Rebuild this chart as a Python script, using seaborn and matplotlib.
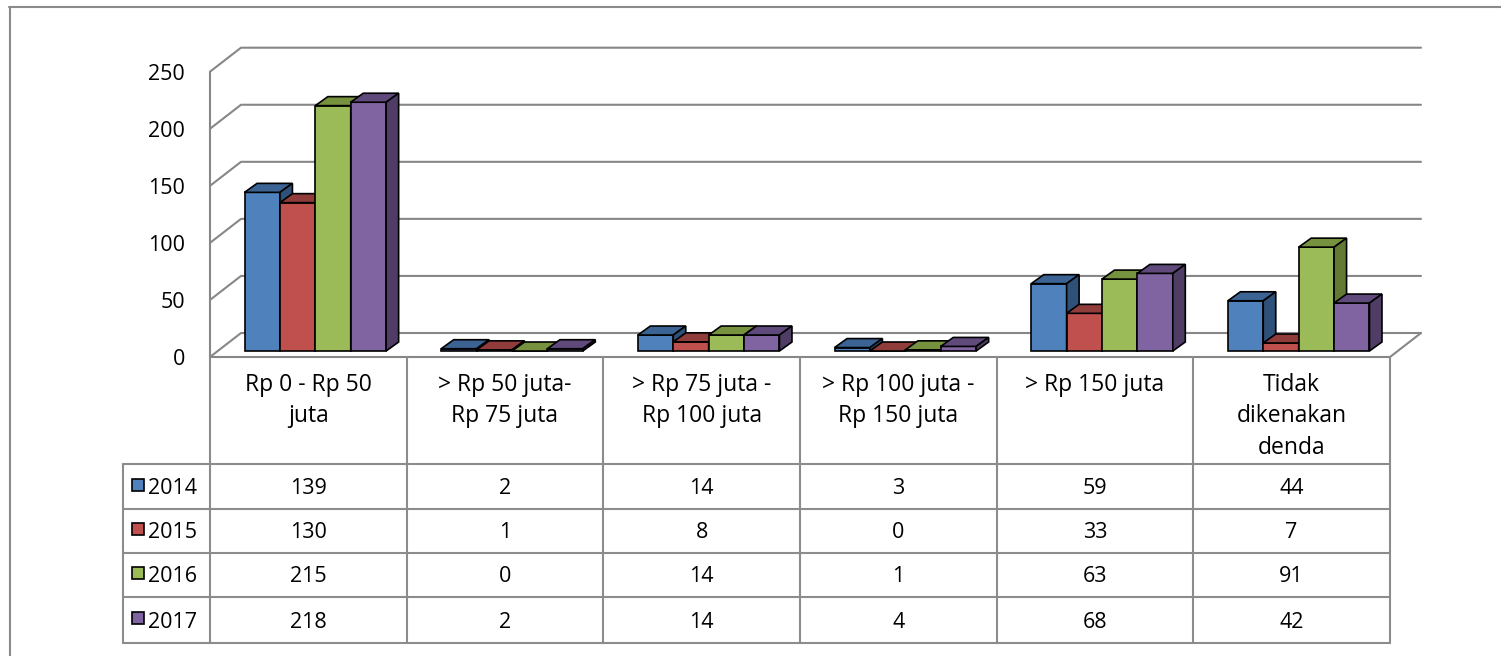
import numpy as np
import pandas as pd
import matplotlib
matplotlib.use("Agg")
import matplotlib.pyplot as plt
import seaborn as sns
from matplotlib.patches import Polygon, Rectangle
from matplotlib.lines import Line2D
from matplotlib.transforms import IdentityTransform, ScaledTranslation

# ---- data -------------------------------------------------------------
categories = ["Rp 0 - Rp 50 juta", "> Rp 50 juta- Rp 75 juta",
              "> Rp 75 juta - Rp 100 juta", "> Rp 100 juta - Rp 150 juta",
              "> Rp 150 juta", "Tidak dikenakan denda"]
category_labels = [["Rp 0 - Rp 50", "juta"],
                   ["> Rp 50 juta-", "Rp 75 juta"],
                   ["> Rp 75 juta -", "Rp 100 juta"],
                   ["> Rp 100 juta -", "Rp 150 juta"],
                   ["> Rp 150 juta"],
                   ["Tidak", "dikenakan", "denda"]]
years = ["2014", "2015", "2016", "2017"]
v2014 = [139, 2, 14, 3, 59, 44]
v2015 = [130, 1, 8, 0, 33, 7]
v2016 = [215, 0, 14, 1, 63, 91]
v2017 = [218, 2, 14, 4, 68, 42]
series = [v2014, v2015, v2016, v2017]
y_ticks = [0, 50, 100, 150, 200, 250]

# ---- styling ----------------------------------------------------------
front_colors = ["#4F81BD", "#C0504D", "#9BBB59", "#8064A2"]
top_colors = ["#3B6494", "#903C3A", "#77923F", "#604A7C"]
side_colors = ["#2F5079", "#772F2D", "#627A33", "#4F3D66"]
GRID = "#878787"
TABLE = "#8C8C8C"

W, H = 1501, 656
DPI = 100
sns.set_style("white")
plt.rcParams["font.family"] = ["Open Sans", "DejaVu Sans"]
FS_TEXT = 16.5
FS_NUM = 15.5

fig = plt.figure(figsize=(W / DPI, H / DPI), dpi=DPI)
fig.patch.set_facecolor("white")


def px(x, y_top):
    """pixel position measured from the top-left corner -> display coords"""
    return (x, H - y_top)


# front plane of the plot: x 210..1390, zero line at 357, 250 at 71.7
y0_px, y250_px = 357.0, 71.7
ax = fig.add_axes([210 / W, (H - y0_px) / H, 1180 / W, (y0_px - y250_px) / H])

df = pd.DataFrame({
    "category": categories * len(years),
    "year": np.repeat(years, len(categories)),
    "value": np.concatenate(series),
})

sns.barplot(data=df, x="category", y="value", hue="year", order=categories,
            hue_order=years, palette=front_colors, saturation=1, width=0.72,
            edgecolor="black", linewidth=1.2, ax=ax, legend=False)

ax.set_xlim(-0.5, len(categories) - 0.5)
ax.set_ylim(0, 250)
ax.patch.set_visible(False)
ax.set_xlabel("")
ax.set_ylabel("")
ax.set_xticks([])
ax.set_yticks(y_ticks)
ax.set_yticklabels([str(t) for t in y_ticks])
for s in ["top", "right", "bottom"]:
    ax.spines[s].set_visible(False)
ax.spines["left"].set_color(GRID)
ax.spines["left"].set_linewidth(1.5)
ax.tick_params(axis="y", length=5, width=1.5, color=GRID, labelcolor="black",
               labelsize=FS_NUM, pad=13)

# depth offsets (pixels, display coords with y up)
WALL_DX, WALL_DY = 31, 24        # back wall
SHIFT_X, SHIFT_Y = 7, 6          # bar front face sits behind the front plane
BAR_DX, BAR_DY = 12.5, 9         # bar depth

fig.canvas.draw()
tdata = ax.transData
xl, _ = tdata.transform((-0.5, 0))
xr, _ = tdata.transform((len(categories) - 0.5, 0))

# back wall gridlines with their receding left ends, plus floor
for t in y_ticks:
    _, yd = tdata.transform((0, t))
    ax.add_line(Line2D([xl, xl + WALL_DX, xr + WALL_DX],
                       [yd, yd + WALL_DY, yd + WALL_DY],
                       transform=IdentityTransform(), color=GRID, lw=1.5,
                       clip_on=False, zorder=1))
_, yz = tdata.transform((0, 0))
ax.add_line(Line2D([xr, xr + WALL_DX], [yz, yz + WALL_DY],
                   transform=IdentityTransform(), color=GRID, lw=1.5,
                   clip_on=False, zorder=1))

# bars: shift front faces back, add top and side faces
shift = ScaledTranslation(SHIFT_X / DPI, SHIFT_Y / DPI, fig.dpi_scale_trans)
for p in ax.patches[:]:
    fc = matplotlib.colors.to_hex(p.get_facecolor())
    k = [c.lower() for c in front_colors].index(fc.lower())
    x0, w, h = p.get_x(), p.get_width(), p.get_height()
    p.set_transform(tdata + shift)
    p.set_clip_on(False)
    p.set_zorder(3 + k * 0.1)
    (xa, yb), (xb, yt) = tdata.transform([(x0, 0), (x0 + w, h)])
    xa += SHIFT_X; xb += SHIFT_X; yb += SHIFT_Y; yt += SHIFT_Y
    top = Polygon([(xa, yt), (xb, yt), (xb + BAR_DX, yt + BAR_DY),
                   (xa + BAR_DX, yt + BAR_DY)], closed=True,
                  facecolor=top_colors[k], edgecolor="black", lw=1.2,
                  transform=IdentityTransform(), clip_on=False,
                  zorder=3 + k * 0.1 + 0.05)
    side = Polygon([(xb, yb), (xb + BAR_DX, yb + BAR_DY),
                    (xb + BAR_DX, yt + BAR_DY), (xb, yt)], closed=True,
                   facecolor=side_colors[k], edgecolor="black", lw=1.2,
                   transform=IdentityTransform(), clip_on=False,
                   zorder=3 + k * 0.1 + 0.05)
    ax.add_patch(top)
    ax.add_patch(side)

ax.set_xlim(-0.5, len(categories) - 0.5)
ax.set_ylim(0, 250)

# ---- data table -------------------------------------------------------
I = IdentityTransform()
col_x = [tdata.transform((i - 0.5, 0))[0] for i in range(len(categories) + 1)]
row_y = [464, 509, 553, 597, 643]
legend_left = 123


def hline(x1, x2, yt, color=TABLE, lw=1.5):
    fig.add_artist(Line2D([x1, x2], [H - yt, H - yt], transform=I,
                          color=color, lw=lw))


def vline(x, y1, y2, color=TABLE, lw=1.5):
    fig.add_artist(Line2D([x, x], [H - y1, H - y2], transform=I,
                          color=color, lw=lw))


hline(col_x[0], col_x[-1], y0_px, color=GRID)
for cx in col_x:
    vline(cx, y0_px, row_y[-1])
vline(legend_left, row_y[0], row_y[-1])
for ry in row_y:
    hline(legend_left, col_x[-1], ry)

# column headers
for i, lines in enumerate(category_labels):
    cx = (col_x[i] + col_x[i + 1]) / 2
    for j, line in enumerate(lines):
        fig.text(*px(cx, 385 + 31.5 * j), line, transform=I, ha="center",
                 va="center", fontsize=FS_TEXT, color="black")

# rows: legend key, year, values
for k, (yr, vals) in enumerate(zip(years, series)):
    yc = (row_y[k] + row_y[k + 1]) / 2 + 2
    fig.add_artist(Rectangle(px(132, yc + 2), 12, 12, transform=I,
                             facecolor=front_colors[k], edgecolor="black",
                             lw=1.2))
    fig.text(*px(148, yc), yr, transform=I, ha="left", va="center",
             fontsize=FS_NUM, color="black")
    for i, v in enumerate(vals):
        cx = (col_x[i] + col_x[i + 1]) / 2
        fig.text(*px(cx, yc), str(v), transform=I, ha="center", va="center",
                 fontsize=FS_NUM, color="black")

# outer frame (top and left edges)
fig.add_artist(Line2D([9, W], [H - 6.5, H - 6.5], transform=I,
                      color="#8A8A8A", lw=1.5))
fig.add_artist(Line2D([9.5, 9.5], [H - 6.5, 0], transform=I,
                      color="#8A8A8A", lw=1.5))

fig.savefig("out.png", dpi=DPI, facecolor="white")
